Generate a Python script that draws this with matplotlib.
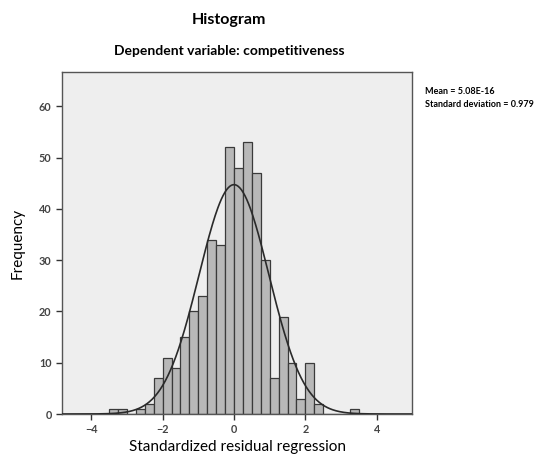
import numpy as np
import matplotlib.pyplot as plt

# histogram bins (width 0.25) and counts
bin_edges = np.arange(-3.5, 3.51, 0.25)
counts = [1, 1, 0, 1, 2, 7, 11, 9, 15, 20, 23, 34, 33, 52,
          48, 53, 47, 30, 7, 19, 10, 3, 10, 2, 0, 0, 0, 1]
mean = 5.08e-16
std_dev = 0.979

x_ticks = [-4, -2, 0, 2, 4]
y_ticks = [0, 10, 20, 30, 40, 50, 60]

plt.rcParams['font.family'] = ['Lato', 'DejaVu Sans']

fig = plt.figure(figsize=(5.36, 4.55), dpi=100)
ax = fig.add_axes([0.1157, 0.0901, 0.653, 0.7517])
ax.set_facecolor('#eeeeee')

widths = np.diff(bin_edges)
ax.bar(bin_edges[:-1], counts, width=widths, align='edge',
       color='#b8b8b8', edgecolor='#3a3a3a', linewidth=0.9, zorder=2)

# normal curve scaled to the counts
n = sum(counts)
bw = widths[0]
xs = np.linspace(-4.8, 5.0, 400)
ys = n * bw / (std_dev * np.sqrt(2 * np.pi)) * np.exp(-0.5 * ((xs - mean) / std_dev) ** 2)
ax.plot(xs, ys, color='#2a2a2a', linewidth=1.2, zorder=3)

ax.set_xlim(-4.82, 4.99)
ax.set_ylim(0, 66.7)
ax.set_xticks(x_ticks)
ax.set_yticks(y_ticks)
ax.tick_params(labelsize=7.8, colors='#333333', length=4, width=1)
for lab in ax.get_xticklabels() + ax.get_yticklabels():
    lab.set_fontweight('bold')
    lab.set_color('#444444')
for sp in ax.spines.values():
    sp.set_color('#555555')
    sp.set_linewidth(1)

ax.set_xlabel('Standardized residual regression', fontsize=11, labelpad=3)
ax.set_ylabel('Frequency', fontsize=11, labelpad=10)

fig.text(0.427, 0.956, 'Histogram', ha='center', va='center',
         fontsize=11.5, fontweight='bold')
fig.text(0.427, 0.888, 'Dependent variable: competitiveness', ha='center',
         va='center', fontsize=10, fontweight='bold')
fig.text(0.792, 0.784, 'Mean = 5.08E-16\nStandard deviation = 0.979',
         ha='left', va='center', fontsize=6.5, fontweight='bold',
         linespacing=1.6)

fig.savefig('out.png', dpi=100, facecolor='white')
